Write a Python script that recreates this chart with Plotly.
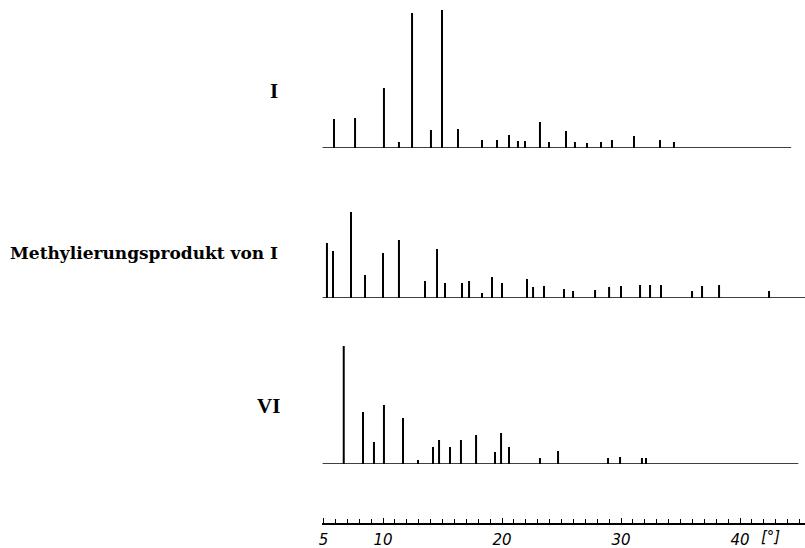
import plotly.graph_objects as go

# Peak positions (2-theta, degrees) and relative intensities (arbitrary units, common scale)
pos_I = [5.88, 7.65, 10.08, 11.34, 12.44, 14.03, 14.96, 16.30, 18.32, 19.58, 20.59, 21.34,
         21.93, 23.19, 23.95, 25.38, 26.13, 27.14, 28.32, 29.24, 31.09, 33.28, 34.45]
int_I = [29, 30, 60, 6, 135, 18, 138, 19, 8, 8, 13, 7,
         7, 26, 6, 17, 6, 5, 6, 8, 12, 8, 6]

pos_M = [5.29, 5.80, 7.31, 8.49, 10.0, 11.34, 13.53, 14.54, 15.21, 16.64, 17.23, 18.32,
         19.16, 20.0, 22.10, 22.61, 23.53, 25.21, 25.97, 27.82, 29.0, 30.0, 31.6, 32.44,
         33.36, 35.97, 36.81, 38.24, 42.44]
int_M = [55, 47, 86, 23, 45, 58, 17, 49, 15, 15, 17, 5,
         21, 15, 19, 11, 12, 9, 7, 8, 11, 12, 13, 13,
         13, 7, 12, 13, 7]

pos_VI = [6.70, 8.32, 9.24, 10.08, 11.68, 12.94, 14.2, 14.71, 15.63, 16.55, 17.82, 19.41,
          19.92, 20.59, 23.19, 24.71, 28.91, 29.92, 31.76, 32.1]
int_VI = [118, 52, 22, 59, 46, 4, 17, 24, 17, 24, 29, 12,
          31, 17, 6, 13, 6, 7, 6, 6]

labels = ["I", "Methylierungsprodukt von I", "VI"]
tick_vals = [5, 10, 20, 30, 40]
tick_text = ["5", "10", "20", "30", "40"]
unit_label = "[°]"

W, H = 805, 548
X_LEFT_PX = 322
DEG_PER_PX = 1 / 11.9
x0 = 5 - (323.5 - X_LEFT_PX) * DEG_PER_PX
x1 = 5 + (W - 323.5) * DEG_PER_PX


def sticks(xs, ys):
    X, Y = [], []
    for a, b in zip(xs, ys):
        X += [a, a, None]
        Y += [0, b, None]
    return X, Y


def dom(base_px, top_px):
    return [1 - base_px / H, 1 - top_px / H]


fig = go.Figure()
# invisible trace holding the scale axis
fig.add_trace(go.Scatter(x=tick_vals, y=[0] * len(tick_vals), mode="none", xaxis="x", yaxis="y",
                         hoverinfo="skip", showlegend=False))
panels = [(pos_I, int_I, "y2", 44.3), (pos_M, int_M, "y3", x1), (pos_VI, int_VI, "y4", 44.9)]
for xs, ys, yax, xend in panels:
    X, Y = sticks(xs, ys)
    fig.add_trace(go.Scatter(x=X, y=Y, mode="lines", yaxis=yax, xaxis="x",
                             line=dict(color="black", width=2), hoverinfo="skip", showlegend=False))
    fig.add_shape(type="line", xref="x", yref=yax, x0=x0 + 0.05, x1=xend, y0=0, y1=0,
                  line=dict(color="black", width=1.6))

fig.update_layout(
    template="none",
    width=W, height=H,
    margin=dict(l=0, r=0, t=0, b=0, pad=0),
    paper_bgcolor="white", plot_bgcolor="white",
    showlegend=False,
    xaxis=dict(domain=[X_LEFT_PX / W, 1], range=[x0, x1], anchor="y", automargin=False,
               showgrid=False, zeroline=False, showline=True, linecolor="black", linewidth=1.5,
               ticks="inside", ticklen=5, tickwidth=1, tickcolor="black",
               tickvals=tick_vals, ticktext=tick_text,
               minor=dict(dtick=1, tick0=5, ticks="inside", ticklen=4, tickwidth=1, tickcolor="black",
                          showgrid=False),
               tickfont=dict(family="DejaVu Sans", size=15, color="black", style="italic"),
               ticklabelstandoff=2),
    yaxis=dict(domain=[1 - 523 / H, 1 - 510 / H], visible=False, range=[0, 1], automargin=False),
    yaxis2=dict(domain=dom(148, 0), range=[0, 148], visible=False, anchor="x", automargin=False),
    yaxis3=dict(domain=dom(298, 150), range=[0, 148], visible=False, anchor="x", automargin=False),
    yaxis4=dict(domain=dom(464, 316), range=[0, 148], visible=False, anchor="x", automargin=False),
)

serif = "Liberation Serif"
ann = dict(xref="paper", yref="paper", showarrow=False, xanchor="center", yanchor="middle")
fig.add_annotation(text="<b>" + labels[0] + "</b>", x=274 / W, y=1 - 91 / H,
                   font=dict(family=serif, size=21, color="black"), **ann)
fig.add_annotation(text="<b>" + labels[1] + "</b>", x=144 / W, y=1 - 253 / H,
                   font=dict(family="DejaVu Serif", size=17, color="black"), **ann)
fig.add_annotation(text="<b>" + labels[2] + "</b>", x=268 / W, y=1 - 406 / H,
                   font=dict(family=serif, size=21, color="black"), **ann)
fig.add_annotation(text=unit_label, x=770 / W, y=1 - 537 / H,
                   font=dict(family="DejaVu Sans", size=15, color="black", style="italic"), **ann)

fig.write_html("out.html", config={"displayModeBar": False},
               post_script="document.body.style.margin='0';document.body.style.padding='0';")
